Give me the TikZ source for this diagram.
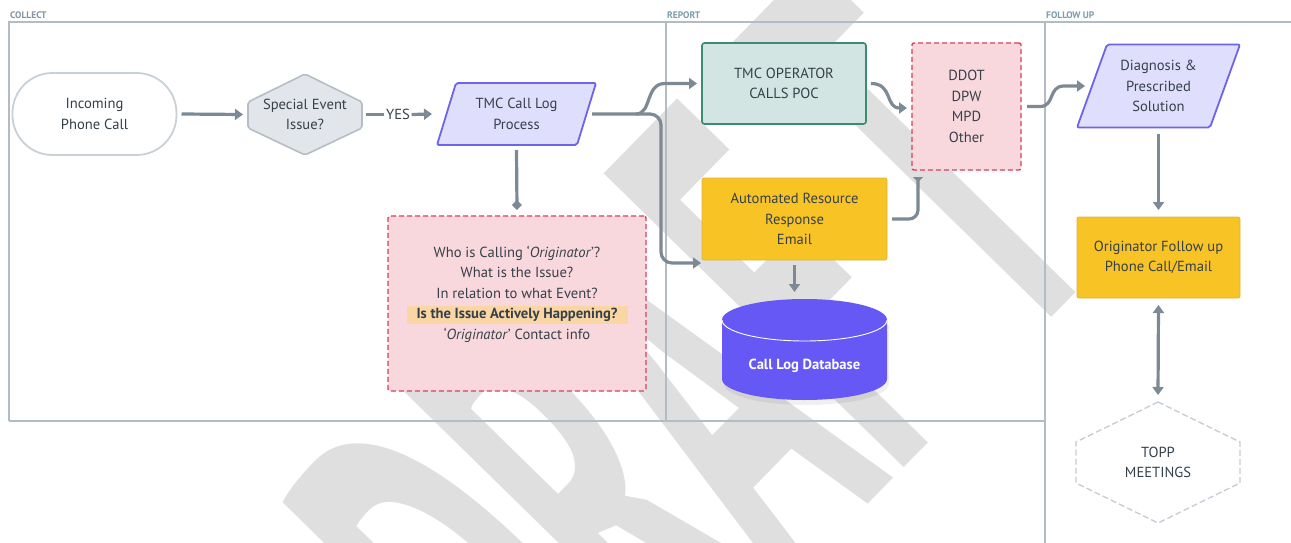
\documentclass[tikz,border=0pt]{standalone}
\usepackage{fontspec}
\setmainfont{PT Sans}
\newfontfamily\wmfont{PT Sans}
\usetikzlibrary{arrows.meta,calc}
\pgfdeclarelayer{wm}
\pgfdeclarelayer{bg}
\pgfsetlayers{wm,bg,main}
\newlength\wmoff
\AtBeginDocument{\settowidth{\wmoff}{\wmfont\bfseries\fontsize{600}{600}\selectfont DRA}}
\definecolor{lanec}{HTML}{B3BBC3}
\definecolor{lanetxt}{HTML}{8593A0}
\definecolor{lanetxtb}{HTML}{7C9CA8}
\definecolor{txtc}{HTML}{364049}
\definecolor{connc}{HTML}{7D8995}
\definecolor{startc}{HTML}{C9D0D6}
\definecolor{hexf}{HTML}{E2E6EA}
\definecolor{hexc}{HTML}{B5BEC6}
\definecolor{paraf}{HTML}{DFDFFD}
\definecolor{parac}{HTML}{6E64E8}
\definecolor{tealf}{HTML}{D2E5E2}
\definecolor{tealc}{HTML}{3C8C74}
\definecolor{pinkf}{HTML}{F8D8DD}
\definecolor{pinkc}{HTML}{D6405C}
\definecolor{yelf}{HTML}{F7C325}
\definecolor{yelc}{HTML}{DDB441}
\definecolor{dbf}{HTML}{6558F5}
\definecolor{hlc}{HTML}{F9D6A3}
\definecolor{toppc}{HTML}{C3CCD4}
\definecolor{wmc}{HTML}{DFDFDF}
\begin{document}
\begin{tikzpicture}[x=1pt,y=-1pt,
  txt/.style={text=txtc, font=\fontsize{14.6}{20.5}\selectfont, align=center, inner sep=0pt},
  holder/.style={txt, inner sep=0pt, outer sep=0pt},
  conn/.style={draw=connc, line width=3.2pt, line join=round},
  arr/.style={conn, -{Triangle[length=8pt,width=11pt]}},
  lane/.style={draw=lanec, line width=1.4pt},
  lanelbl/.style={font=\fontsize{9.5}{10}\selectfont\bfseries, anchor=base west, inner sep=0pt},
  startbox/.style={holder, draw=startc, line width=1.8pt, fill=white, rounded corners=40pt},
  opbox/.style={holder, draw=tealc, fill=tealf, line width=1.6pt, rounded corners=2.5pt},
  pinkbox/.style={holder, draw=pinkc, fill=pinkf, line width=1.4pt, dash pattern=on 5pt off 3pt, rounded corners=2pt},
  ybox/.style={holder, draw=yelc, fill=yelf, line width=0.8pt, rounded corners=2pt},
]
\useasboundingbox (0,0) rectangle (1291,543);
\begin{pgfonlayer}{wm}
\fill[white] (0,0) rectangle (1291,543);
\pgfmathsetmacro\wmo{\wmoff}
\pgfmathsetmacro\wmxs{460/\wmo}
\begin{scope}
\clip (0,0) rectangle (1291,543);
\begin{scope}[shift={(607,171)}, rotate=45.6, xscale=\wmxs]
\node[transform shape, anchor=base west, inner sep=0pt, text=wmc, font=\wmfont\bfseries\fontsize{600}{600}\selectfont] (wm) at (-\wmo-45,420) {DRAF\kern100pt T};
\end{scope}
\end{scope}
\draw[lane] (9,421) -- (9,22) -- (1291,22);
\draw[lane] (666,22) -- (666,421);
\draw[lane] (1045,22) -- (1045,543);
\draw[lane] (9,421) -- (1045,421);
\node[lanelbl, text=lanetxt] (lc) at (10,19) {COLLECT};
\node[lanelbl, text=lanetxtb] (lr) at (667,19) {REPORT};
\node[lanelbl, text=lanetxtb] (lf) at (1046,19) {FOLLOW UP};
\end{pgfonlayer}

\node[startbox, minimum width=164pt, minimum height=82pt] (start) at (94.5,114) {Incoming\\Phone Call};
\node[holder, minimum width=114pt, minimum height=81pt] (hex) at (305,114.5) {Special Event\\Issue?};
\node[txt] (yes) at (398,114.5) {YES};
\node[holder, minimum width=159pt, minimum height=62pt] (log) at (516.5,114) {TMC Call Log\\Process};
\node[opbox, minimum width=164pt, minimum height=81pt] (op) at (784,83.5) {TMC OPERATOR\\CALLS POC};
\node[pinkbox, minimum width=109pt, minimum height=127pt] (ddot) at (966.5,106.5) {DDOT\\DPW\\MPD\\Other};
\node[ybox, minimum width=185pt, minimum height=82pt] (auto) at (794.5,219) {Automated Resource\\Response\\Email};
\node[pinkbox, minimum width=258pt, minimum height=175pt] (q) at (517,303.5) {};
\fill[hlc] (407,306) rectangle (628,324);
\node[txt] (qt) at (517,294) {Who is Calling ‘\textit{Originator}’?\\What is the Issue?\\In relation to what Event?\\\textbf{Is the Issue Actively Happening?}\\‘\textit{Originator}’ Contact info};
\node[holder, minimum width=165pt, minimum height=102pt] (db) at (804.5,349) {};
\node[txt, text=white, font=\fontsize{14.6}{16}\selectfont\bfseries] (dbl) at (804.5,365.5) {Call Log Database};
\node[holder, minimum width=163pt, minimum height=83pt] (diag) at (1158.5,86) {Diagnosis \&\\Prescribed\\Solution};
\node[ybox, minimum width=163pt, minimum height=81pt] (orig) at (1158.5,257.5) {Originator Follow up\\Phone Call/Email};
\node[holder, minimum width=164pt, minimum height=121pt] (topp) at (1158,462.5) {TOPP\\MEETINGS};

\begin{pgfonlayer}{bg}
\filldraw[fill=hexf, draw=hexc, line width=1.6pt, rounded corners=2pt] (hex.north) -- ([yshift=-28pt]hex.north east) -- ([yshift=27pt]hex.south east) -- (hex.south) -- ([yshift=27pt]hex.south west) -- ([yshift=-28pt]hex.north west) -- cycle;
\filldraw[fill=paraf, draw=parac, line width=1.8pt, rounded corners=2pt] ([xshift=19pt]log.north west) -- (log.north east) -- ([xshift=-19pt]log.south east) -- (log.south west) -- cycle;
\filldraw[fill=paraf, draw=parac, line width=1.8pt, rounded corners=2pt] ([xshift=30pt]diag.north west) -- (diag.north east) -- ([xshift=-30pt]diag.south east) -- (diag.south west) -- cycle;
\filldraw[fill=white, draw=toppc, line width=1.3pt, dash pattern=on 6pt off 3pt] (topp.north) -- ([yshift=-40pt]topp.north east) -- ([yshift=40pt]topp.south east) -- (topp.south) -- ([yshift=40pt]topp.south west) -- ([yshift=-40pt]topp.north west) -- cycle;
\fill[black, opacity=0.06] (724,325) -- (724,384) arc[start angle=180, end angle=0, x radius=82.5, y radius=21] -- (889,325) -- cycle;
\fill[dbf] (722,320) -- (722,379) arc[start angle=180, end angle=0, x radius=82.5, y radius=21] -- (887,320) arc[start angle=0, end angle=-180, x radius=82.5, y radius=21] -- cycle;
\draw[white, line width=0.9pt] (722,320) arc[start angle=180, end angle=0, x radius=82.5, y radius=21];
\end{pgfonlayer}

\draw[arr] ([xshift=5pt]start.east) -- ([xshift=-5pt]hex.west);
\draw[conn] ([xshift=4pt]hex.east) -- ([xshift=-1.5pt]yes.west);
\draw[arr] ([xshift=1.5pt]yes.east) -- ([xshift=-5pt]log.west);
\draw[conn, rounded corners=11pt, -{Triangle[length=8pt,width=11pt]}] ([xshift=-4pt]log.east) -- (661,114) -- (661,263) -- ([shift={(-1pt,-3pt)}]auto.south west);
\draw[arr] (636,114) .. controls (652,114) and (645,83.5) .. (665,83.5) -- ([xshift=-5pt]op.west);
\draw[arr] ([xshift=5pt]op.east) .. controls +(22,0) and +(-22,0) .. ([xshift=-5pt,yshift=-1.5pt]ddot.west);
\draw[conn, rounded corners=9pt, -{Triangle[reversed,length=5pt,width=10pt]}] ([xshift=5pt]auto.east) -| ([xshift=6pt,yshift=-7pt]ddot.south west);
\draw[conn, -{Diamond[length=10pt,width=10pt]}] ([yshift=-5pt]log.south) -- ([yshift=6pt]q.north);
\coordinate (dbin) at (auto.south |- db.north);
\draw[arr] ([yshift=-5pt]auto.south) -- ([yshift=6pt]dbin);
\draw[arr] ([xshift=6pt]ddot.east) -- (1040,106.5) .. controls (1055,106.5) and (1048,86) .. (1064,86) -- ([xshift=8pt]diag.west);
\draw[arr] ([yshift=-6pt]diag.south) -- ([yshift=7pt]orig.north);
\draw[conn, {Triangle[length=8pt,width=11pt]}-{Triangle[length=8pt,width=11pt]}] ([yshift=-7pt]orig.south) -- ([yshift=7pt]topp.north);
\end{tikzpicture}
\end{document}
